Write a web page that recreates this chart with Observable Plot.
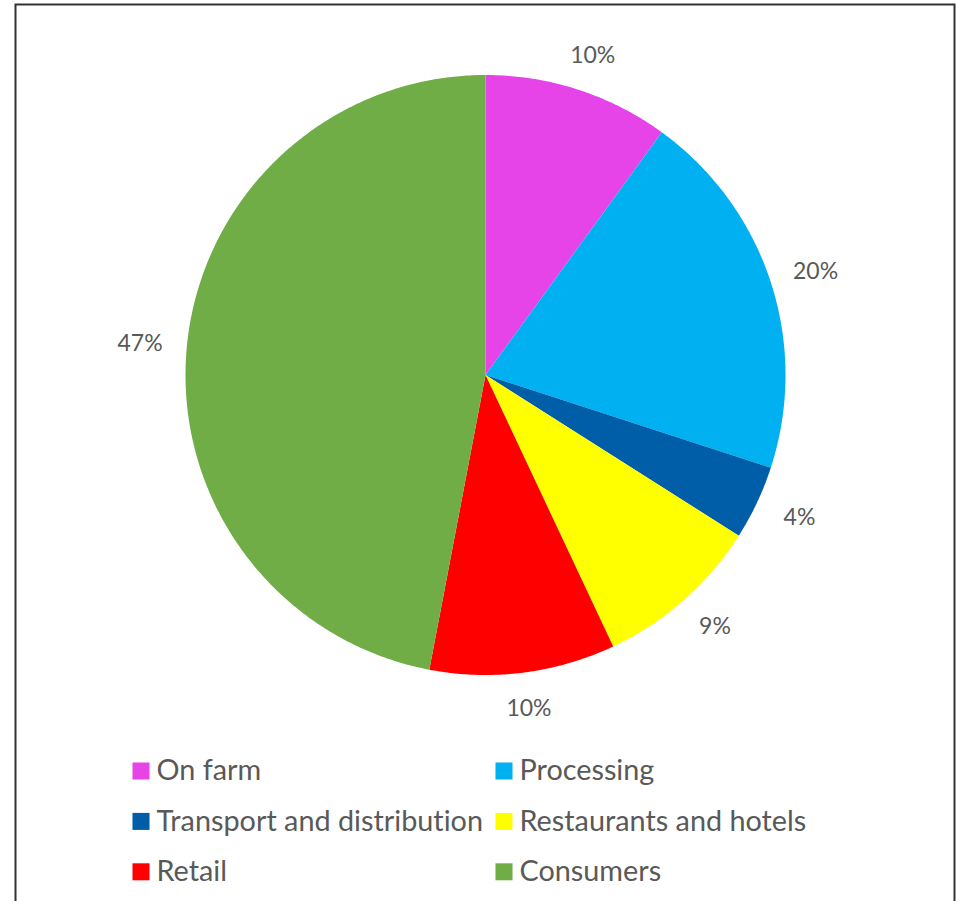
<!DOCTYPE html>
<html>
<head>
<meta charset="utf-8">
<script src="https://cdn.jsdelivr.net/npm/d3@7"></script>
<script src="https://cdn.jsdelivr.net/npm/@observablehq/plot@0.6"></script>
<style>
  html, body { margin: 0; padding: 0; background: #fff; }
  #chart svg { display: block; font-variant-ligatures: none; }
  #chart svg text { font-variant-ligatures: none; font-feature-settings: "liga" 0, "clig" 0; }
</style>
</head>
<body>
<div id="chart"></div>
<script>
// ---- data ----
const categories = ["On farm", "Processing", "Transport and distribution", "Restaurants and hotels", "Retail", "Consumers"];
const shares = [10, 20, 4, 9, 10, 47];
const percentLabels = ["10%", "20%", "4%", "9%", "10%", "47%"];
const colors = ["#E643E9", "#00B0F0", "#005EA8", "#FFFF00", "#FF0000", "#70AD47"];

// ---- layout ----
const W = 956, H = 901;
const CX = 485, CY = 374.5, R = 300;
const LABEL_RX = 347, LABEL_RY = 336; // label distance from centre (horizontal / vertical)
const textColor = "#595959";

const arcs = d3.pie().sort(null).value(d => d)(shares);

// slice polygons
const sliceRows = [];
arcs.forEach((a, i) => {
  const cat = categories[i];
  sliceRows.push({cat, x: CX, y: CY});
  const n = Math.max(2, Math.ceil((a.endAngle - a.startAngle) / (Math.PI / 360)));
  for (let k = 0; k <= n; k++) {
    const t = a.startAngle + (a.endAngle - a.startAngle) * k / n;
    sliceRows.push({cat, x: CX + R * Math.sin(t), y: CY - R * Math.cos(t)});
  }
  sliceRows.push({cat, x: CX, y: CY});
});

const labelRows = arcs.map((a, i) => {
  const m = (a.startAngle + a.endAngle) / 2;
  return {text: percentLabels[i], x: CX + LABEL_RX * Math.sin(m), y: CY - LABEL_RY * Math.cos(m)};
});

// legend layout (2 columns, 3 rows)
const colX = [140.5, 503.5], rowY0 = 770.5, rowStep = 50.4, textGap = 15.5;
const legendRows = categories.map((cat, i) => ({
  cat,
  x: colX[i % 2],
  y: rowY0 + Math.floor(i / 2) * rowStep
}));

const chart = Plot.plot({
  width: W,
  height: H,
  margin: 0,
  x: {domain: [0, W], range: [0, W], axis: null},
  y: {domain: [0, H], range: [0, H], axis: null},
  color: {domain: categories, range: colors},
  style: {fontFamily: "Lato, 'Open Sans', sans-serif", background: "#fff"},
  marks: [
    Plot.frame({stroke: "#333", strokeWidth: 2, insetLeft: 15, insetTop: 4, insetRight: 2, insetBottom: -10}),
    Plot.line(sliceRows, {x: "x", y: "y", z: "cat", fill: "cat", stroke: "none", curve: "linear"}),
    Plot.text(labelRows, {x: "x", y: "y", text: "text", fill: textColor, fontSize: 23, textAnchor: "middle", lineAnchor: "middle"}),
    Plot.dot(legendRows, {x: "x", y: "y", fill: "cat", symbol: "square", r: 9.6, stroke: "none"}),
    Plot.text(legendRows, {x: "x", y: "y", text: "cat", dx: textGap, fill: textColor, fontSize: 28.8, textAnchor: "start", lineAnchor: "middle"})
  ]
});

document.getElementById("chart").appendChild(chart);
</script>
</body>
</html>
